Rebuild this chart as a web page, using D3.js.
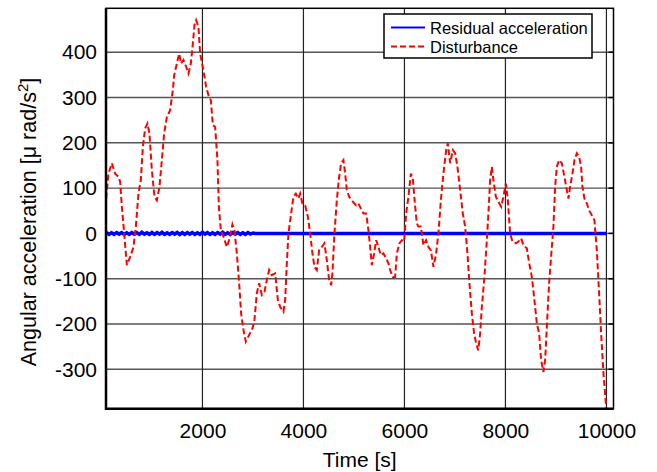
<!DOCTYPE html>
<html>
<head>
<meta charset="utf-8">
<script src="https://cdn.jsdelivr.net/npm/d3@7"></script>
<style>
  body { margin: 0; background: #fff; }
  text { font-family: "Liberation Sans", Arial, sans-serif; fill: #000; }
</style>
</head>
<body>
<div id="root"></div>
<script>
// disturbance (red dashed)
const distTime = [93, 139, 206, 271, 337, 370, 404, 450, 503, 568, 634, 681, 733, 780, 820, 865, 911, 950, 998, 1050,
  1097, 1149, 1196, 1242, 1295, 1360, 1413, 1440, 1493, 1539, 1578, 1624, 1677, 1723, 1770, 1810, 1842, 1875, 1921, 1954,
  2020, 2073, 2119, 2166, 2206, 2251, 2297, 2325, 2364, 2416, 2483, 2549, 2594, 2634, 2681, 2727, 2766, 2812, 2859, 2925,
  2990, 3030, 3077, 3123, 3176, 3228, 3275, 3321, 3374, 3440, 3493, 3539, 3604, 3638, 3671, 3703, 3756, 3802, 3849, 3901,
  3935, 3980, 4034, 4087, 4133, 4178, 4218, 4265, 4311, 4364, 4416, 4463, 4509, 4549, 4574, 4614, 4661, 4707, 4747, 4792,
  4826, 4859, 4905, 4958, 5010, 5044, 5089, 5137, 5188, 5242, 5287, 5321, 5354, 5400, 5440, 5485, 5533, 5584, 5638, 5683,
  5717, 5770, 5816, 5850, 5901, 5948, 5994, 6034, 6079, 6127, 6166, 6212, 6246, 6277, 6325, 6376, 6430, 6475, 6523, 6574,
  6628, 6673, 6721, 6772, 6826, 6860, 6905, 6959, 7004, 7050, 7103, 7156, 7202, 7248, 7287, 7335, 7380, 7420, 7462, 7499,
  7533, 7584, 7632, 7663, 7697, 7731, 7762, 7810, 7861, 7915, 7960, 8008, 8048, 8093, 8139, 8206, 8257, 8311, 8356, 8424,
  8471, 8523, 8574, 8622, 8667, 8707, 8752, 8786, 8820, 8865, 8919, 8950, 8984, 9018, 9063, 9117, 9168, 9216, 9248, 9281,
  9327, 9367, 9414, 9459, 9499, 9525, 9564, 9612, 9657, 9711, 9762, 9810, 9855, 9895, 9941, 9988, 10000];
const distValue = [77, 132, 155, 132, 125, 114, 59, 0, -70, -52, -30, 15, 88, 118, 191, 232, 243, 221, 140, 81,
  73, 103, 162, 221, 257, 272, 316, 349, 375, 397, 375, 383, 368, 353, 375, 419, 460, 471, 456, 397,
  360, 324, 305, 294, 239, 235, 162, 59, 7, -7, -30, -7, 20, 7, -44, -110, -177, -213, -239, -224,
  -210, -191, -132, -110, -136, -129, -103, -81, -92, -88, -147, -162, -173, -147, -66, 0, 44, 81, 88, 77,
  88, 66, 62, 37, 0, -44, -74, -81, -37, -30, -22, -59, -103, -114, -88, 0, 73, 125, 155, 162,
  132, 96, 81, 73, 66, 62, 66, 55, 44, 44, 7, -30, -70, -44, -15, -30, -48, -44, -55, -66,
  -81, -96, -96, -44, -22, -15, -18, 44, 81, 132, 121, 59, 22, 15, 15, -26, -15, -30, -37, -74,
  -44, 0, 73, 132, 184, 199, 155, 184, 177, 147, 96, 44, 15, -44, -110, -177, -221, -243, -258, -221,
  -162, -96, -15, 44, 118, 147, 118, 81, 70, 59, 81, 110, 73, 0, -18, -22, -18, -11, -26, -33,
  -66, -96, -147, -199, -221, -280, -306, -280, -206, -110, -30, 15, 103, 147, 162, 155, 125, 96, 77, 103,
  132, 162, 177, 169, 147, 103, 77, 66, 51, 40, 29, -37, -132, -221, -309, -375, -385];

// residual acceleration (blue), noisy up to ~3000 s then flat
const resTime = [100, 150, 200, 250, 300, 350, 400, 450, 500, 550, 600, 650, 700, 750, 800, 850, 900, 950, 1000, 1050,
  1100, 1150, 1200, 1250, 1300, 1350, 1400, 1450, 1500, 1550, 1600, 1650, 1700, 1750, 1800, 1850, 1900, 1950, 2000, 2050,
  2100, 2150, 2200, 2250, 2300, 2350, 2400, 2450, 2500, 2550, 2600, 2650, 2700, 2750, 2800, 2850, 2900, 2950, 3000, 3050, 10000];
const resValue = [2, -2, 1.5, -2, 2, -1.5, 2, -2, 1.5, -2, 2, -1.5, 2, -2, 2.5, -1.5, 1.5, -2, 2, -2, 2, -1.5, 2.5, -2, 1.5, -2, 2, -1.5, 2, -2.5,
  1.5, -2, 2, -1.5, 2, -2, 1.5, -2, 2.5, -1.5, 2, -2, 1.5, -2, 2, -1.5, 2.5, -2, 1.5, -2, 2, -1.5, 2, -2, 1.5, -2, 2, -1.5, 1, 0, 0];

const xTicks = [2000, 4000, 6000, 8000, 10000];
const yTicks = [-300, -200, -100, 0, 100, 200, 300, 400];
const legends = [["#0000ff", "Residual acceleration", null], ["#ff0000", "Disturbance", "6,3"]];

const w = 657;
const h = 472;
const pLeft = 106, pRight = 613.5, pTop = 8.3, pBottom = 408.7;

const xScale = d3.scaleLinear().domain([90, 10140]).range([pLeft, pRight]);
const yScale = d3.scaleLinear().domain([-387, 497]).range([pBottom, pTop]);

const svg = d3.select("#root")
  .append("svg")
  .attr("width", w)
  .attr("height", h);

// grid
svg.append("g")
  .selectAll("line")
  .data(yTicks)
  .enter()
  .append("line")
  .attr("x1", pLeft).attr("x2", pRight)
  .attr("y1", d => yScale(d)).attr("y2", d => yScale(d))
  .attr("stroke", "#555")
  .attr("stroke-width", 1.4);

svg.append("g")
  .selectAll("line")
  .data(xTicks)
  .enter()
  .append("line")
  .attr("x1", d => xScale(d)).attr("x2", d => xScale(d))
  .attr("y1", pTop).attr("y2", pBottom)
  .attr("stroke", "#222")
  .attr("stroke-width", 1.2);

// axes
const xAxis = d3.axisBottom(xScale).tickValues(xTicks).tickSize(0).tickPadding(14)
  .tickFormat(d => String(d));
const yAxis = d3.axisLeft(yScale).tickValues(yTicks).tickSize(0).tickPadding(9)
  .tickFormat(d => String(d));

svg.append("g")
  .attr("transform", `translate(0, ${pBottom})`)
  .call(xAxis)
  .call(g => g.select(".domain").remove())
  .selectAll("text")
  .attr("font-size", 21);

svg.append("g")
  .attr("transform", `translate(${pLeft}, 0)`)
  .call(yAxis)
  .call(g => g.select(".domain").remove())
  .selectAll("text")
  .attr("font-size", 21);

// lines
svg.append("clipPath").attr("id", "clip")
  .append("rect")
  .attr("x", pLeft).attr("y", pTop)
  .attr("width", pRight - pLeft).attr("height", pBottom - pTop);

const line = d3.line()
  .x(d => xScale(d[0]))
  .y(d => yScale(d[1]));

svg.append("path")
  .datum(resTime.map((t, i) => [t, resValue[i]]))
  .attr("clip-path", "url(#clip)")
  .attr("fill", "none")
  .attr("stroke", "#0000ff")
  .attr("stroke-width", 3.5)
  .attr("d", line);

svg.append("path")
  .datum(distTime.map((t, i) => [t, distValue[i]]))
  .attr("clip-path", "url(#clip)")
  .attr("fill", "none")
  .attr("stroke", "#ff0000")
  .attr("stroke-width", 2)
  .attr("stroke-dasharray", "6,3")
  .attr("d", line);

// frame
svg.append("rect")
  .attr("x", pLeft).attr("y", pTop)
  .attr("width", pRight - pLeft).attr("height", pBottom - pTop)
  .attr("fill", "none")
  .attr("stroke", "#000")
  .attr("stroke-width", 1.5);

svg.append("line")
  .attr("x1", pLeft).attr("x2", pLeft)
  .attr("y1", pTop).attr("y2", pBottom + 1)
  .attr("stroke", "#000").attr("stroke-width", 2.5);

svg.append("line")
  .attr("x1", pLeft - 1).attr("x2", pRight)
  .attr("y1", pBottom).attr("y2", pBottom)
  .attr("stroke", "#000").attr("stroke-width", 2.5);

// right-side ticks
svg.append("g")
  .selectAll("line")
  .data(yTicks)
  .enter()
  .append("line")
  .attr("x1", pRight - 5).attr("x2", pRight)
  .attr("y1", d => yScale(d)).attr("y2", d => yScale(d))
  .attr("stroke", "#000")
  .attr("stroke-width", 1.5);

// axis labels
svg.append("text")
  .attr("x", (pLeft + pRight) / 2)
  .attr("y", 467)
  .attr("text-anchor", "middle")
  .attr("font-size", 21)
  .text("Time [s]");

const yLabel = svg.append("text")
  .attr("transform", "translate(36, 222) rotate(-90)")
  .attr("text-anchor", "middle")
  .attr("font-size", 21.5);
yLabel.append("tspan").text("Angular acceleration [μ rad/s");
yLabel.append("tspan").attr("font-size", 15).attr("dy", -8).text("2");
yLabel.append("tspan").attr("dy", 8).text("]");

// legend
const legendGroup = svg.append("g").attr("id", "legend");

legendGroup.append("rect")
  .attr("x", 384).attr("y", 14)
  .attr("width", 208).attr("height", 44)
  .attr("fill", "#fff")
  .attr("stroke", "#000")
  .attr("stroke-width", 1.5);

legendGroup.selectAll(".legend-line")
  .data(legends)
  .enter()
  .append("line")
  .attr("class", "legend-line")
  .attr("x1", 391).attr("x2", 425)
  .attr("y1", (d, i) => 27.5 + 19 * i)
  .attr("y2", (d, i) => 27.5 + 19 * i)
  .attr("stroke", d => d[0])
  .attr("stroke-width", 2)
  .attr("stroke-dasharray", d => d[2]);

legendGroup.selectAll("text")
  .data(legends)
  .enter()
  .append("text")
  .attr("x", 430)
  .attr("y", (d, i) => 33.5 + 19 * i)
  .attr("font-size", 16.5)
  .text(d => d[1]);
</script>
</body>
</html>
